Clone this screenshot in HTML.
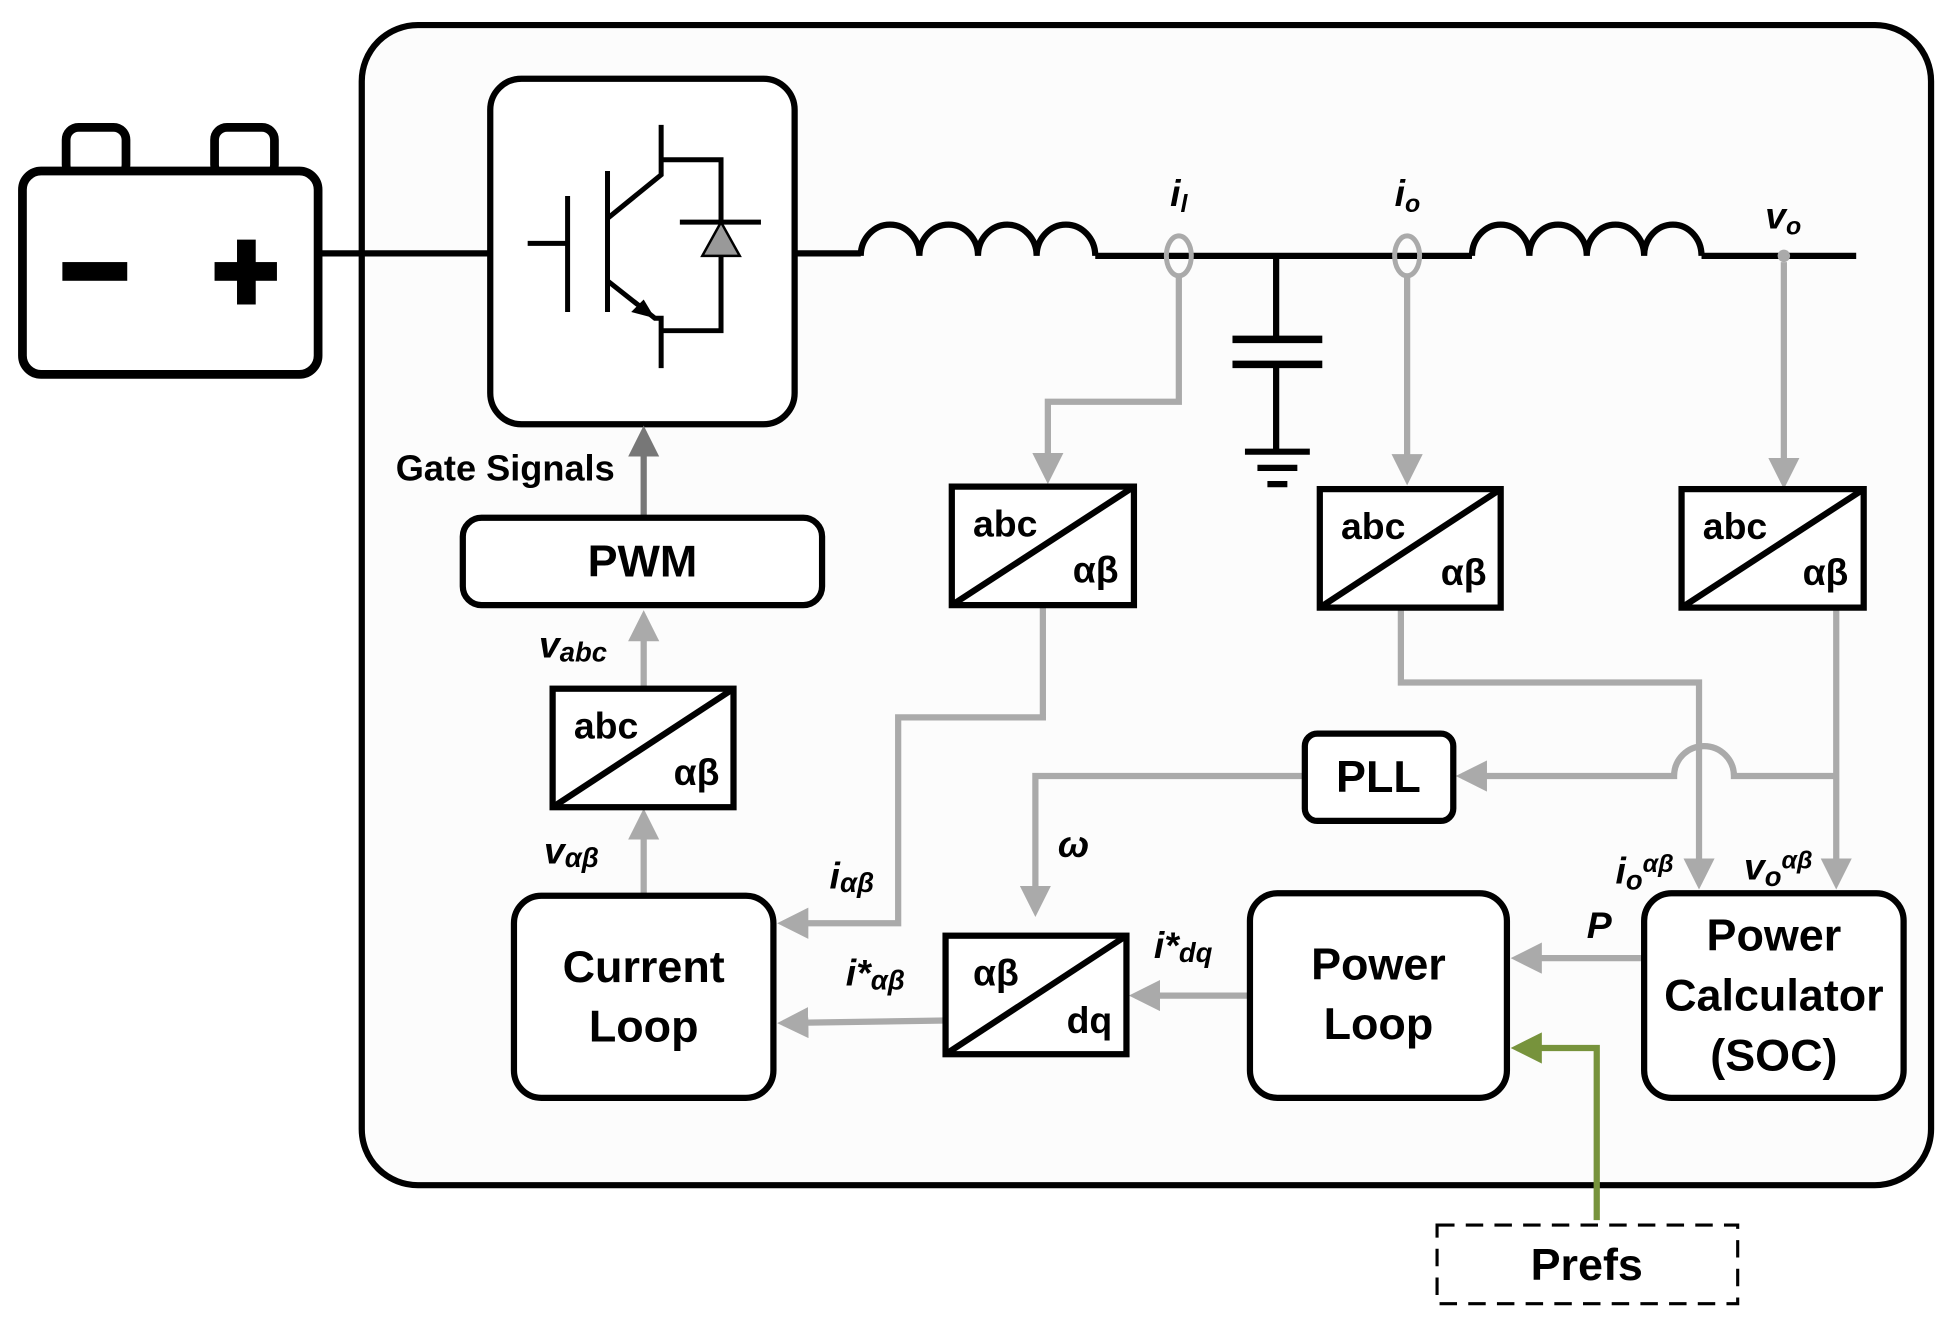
<!DOCTYPE html>
<html><head><meta charset="utf-8"><style>html,body{margin:0;padding:0;background:#fff}svg{display:block}</style></head><body>
<svg width="1956" height="1330" viewBox="0 0 1568 1066" xmlns="http://www.w3.org/2000/svg" font-family="Liberation Sans, Arial, sans-serif" font-weight="bold">
<defs>
<marker id="g" markerWidth="5" markerHeight="5" refX="4" refY="2.5" orient="auto" markerUnits="strokeWidth"><path d="M0,0 L5,2.5 L0,5 z" fill="#aaa"/></marker>
<marker id="d" markerWidth="5" markerHeight="5" refX="4" refY="2.5" orient="auto" markerUnits="strokeWidth"><path d="M0,0 L5,2.5 L0,5 z" fill="#777"/></marker>
<marker id="gr" markerWidth="5" markerHeight="5" refX="4" refY="2.5" orient="auto" markerUnits="strokeWidth"><path d="M0,0 L5,2.5 L0,5 z" fill="#77933c"/></marker>
</defs>
<rect x="290" y="20" width="1258" height="930" rx="45" fill="#fcfcfc" stroke="#000" stroke-width="5"/>
<!-- battery -->
<rect x="53" y="102" width="48" height="40" rx="10" fill="none" stroke="#000" stroke-width="7"/>
<rect x="172" y="102" width="48" height="40" rx="10" fill="none" stroke="#000" stroke-width="7"/>
<rect x="18" y="137" width="237" height="163" rx="15" fill="#fff" stroke="#000" stroke-width="7"/>
<rect x="50" y="210" width="52" height="15" fill="#000"/>
<rect x="172" y="210" width="50" height="15" fill="#000"/>
<rect x="190" y="192" width="15" height="52" fill="#000"/>
<line x1="255" y1="203" x2="393" y2="203" stroke="#000" stroke-width="5"/>
<!-- switch -->
<rect x="393" y="63" width="244" height="277" rx="25" fill="#fff" stroke="#000" stroke-width="5"/>
<g stroke="#000" stroke-width="4" fill="none">
<line x1="423" y1="195" x2="455" y2="195"/>
<line x1="455" y1="157" x2="455" y2="250"/>
<line x1="487" y1="137" x2="487" y2="250"/>
<polyline points="487,175 530,140 530,100"/>
<polyline points="530,128 578,128 578,265 530,265"/>
<polyline points="487,225 525,255 530,255 530,295"/>
<line x1="545" y1="178" x2="610" y2="178"/>
</g>
<path d="M525,255 L506,250 L516,240 z" fill="#000"/>
<path d="M578,178 L563,205 L593,205 z" fill="#999" stroke="#000" stroke-width="2"/>
<!-- power line -->
<g stroke="#000" stroke-width="5" fill="none">
<line x1="637" y1="203" x2="690" y2="203"/>
<path d="M690,205 a23.5,25 0 0 1 47,0 a23.5,25 0 0 1 47,0 a23.5,25 0 0 1 47,0 a23.5,25 0 0 1 47,0"/>
<line x1="878" y1="205" x2="1180" y2="205"/>
<path d="M1180,205 a23,25 0 0 1 46,0 a23,25 0 0 1 46,0 a23,25 0 0 1 46,0 a23,25 0 0 1 46,0"/>
<line x1="1364" y1="205" x2="1488" y2="205"/>
<line x1="1023" y1="205" x2="1023" y2="272"/>
<line x1="988" y1="272" x2="1060" y2="272" stroke-width="6"/>
<line x1="988" y1="292" x2="1060" y2="292" stroke-width="6"/>
<line x1="1023" y1="292" x2="1023" y2="362"/>
<line x1="998" y1="362" x2="1050" y2="362"/>
<line x1="1008" y1="375" x2="1040" y2="375"/>
<line x1="1016" y1="388" x2="1032" y2="388"/>
</g>
<ellipse cx="945" cy="205" rx="10" ry="16" fill="none" stroke="#aaa" stroke-width="4"/>
<ellipse cx="1128" cy="205" rx="10" ry="16" fill="none" stroke="#aaa" stroke-width="4"/>
<circle cx="1430" cy="205" r="5" fill="#aaa"/>
<g font-style="italic" font-size="30">
<text x="938" y="165">i<tspan font-size="20" dy="5">l</tspan></text>
<text x="1118" y="165">i<tspan font-size="20" dy="5">o</tspan></text>
<text x="1415" y="183">v<tspan font-size="20" dy="5">o</tspan></text>
</g>
<!-- gray connectors -->
<g stroke="#aaa" stroke-width="5" fill="none">
<polyline points="945,221 945,322 840,322 840,383" marker-end="url(#g)"/>
<line x1="1128" y1="221" x2="1128" y2="384" marker-end="url(#g)"/>
<line x1="1430" y1="210" x2="1430" y2="387" marker-end="url(#g)"/>
<polyline points="836,485 836,575 720,575 720,740 628,740" marker-end="url(#g)"/>
<polyline points="1123,487 1123,547 1362,547 1362,708" marker-end="url(#g)"/>
<line x1="1472" y1="487" x2="1472" y2="708" marker-end="url(#g)"/>
<path d="M1472,622 L1390,622 A24,24 0 0 0 1342,622 L1172,622" marker-end="url(#g)"/>
<polyline points="1046,622 830,622 830,730" marker-end="url(#g)"/>
<line x1="1318" y1="768" x2="1216" y2="768" marker-end="url(#g)"/>
<line x1="1002" y1="798" x2="910" y2="798" marker-end="url(#g)"/>
<line x1="758" y1="818" x2="628" y2="820" marker-end="url(#g)"/>
<line x1="516" y1="718" x2="516" y2="653" marker-end="url(#g)"/>
<line x1="516" y1="552" x2="516" y2="494" marker-end="url(#g)"/>
</g>
<line x1="516" y1="415" x2="516" y2="346" stroke="#777" stroke-width="5" marker-end="url(#d)"/>
<polyline points="1280,978 1280,840 1216,840" stroke="#77933c" stroke-width="5" fill="none" marker-end="url(#gr)"/>
<!-- abc boxes -->
<g stroke="#000" stroke-width="5" fill="#fff">
<rect x="763" y="390" width="146" height="95"/><line x1="763" y1="485" x2="909" y2="390"/>
<rect x="1058" y="392" width="145" height="95"/><line x1="1058" y1="487" x2="1203" y2="392"/>
<rect x="1348" y="392" width="146" height="95"/><line x1="1348" y1="487" x2="1494" y2="392"/>
<rect x="443" y="552" width="145" height="95"/><line x1="443" y1="647" x2="588" y2="552"/>
<rect x="758" y="750" width="145" height="95"/><line x1="758" y1="845" x2="903" y2="750"/>
<rect x="371" y="415" width="288" height="70" rx="15"/>
<rect x="1046" y="588" width="119" height="70" rx="10"/>
<rect x="412" y="718" width="208" height="162" rx="22"/>
<rect x="1002" y="716" width="206" height="164" rx="22"/>
<rect x="1318" y="716" width="208" height="164" rx="22"/>
</g>
<rect x="1152" y="982" width="241" height="63" fill="none" stroke="#000" stroke-width="2.5" stroke-dasharray="14,9"/>
<g font-size="30" fill="#000">
<text x="780" y="430">abc</text><text x="860" y="467">αβ</text>
<text x="1075" y="432">abc</text><text x="1155" y="469">αβ</text>
<text x="1365" y="432">abc</text><text x="1445" y="469">αβ</text>
<text x="460" y="592">abc</text><text x="540" y="629">αβ</text>
<text x="780" y="790">αβ</text><text x="855" y="828">dq</text>
</g>
<g font-size="36" text-anchor="middle" fill="#000">
<text x="515" y="462">PWM</text>
<text x="1105" y="635">PLL</text>
<text x="516" y="787">Current</text><text x="516" y="835">Loop</text>
<text x="1105" y="785">Power</text><text x="1105" y="833">Loop</text>
<text x="1422" y="762">Power</text><text x="1422" y="810">Calculator</text><text x="1422" y="858">(SOC)</text>
<text x="1272" y="1026">Prefs</text>
</g>
<text x="405" y="385" font-size="29" text-anchor="middle">Gate Signals</text>
<g font-style="italic" font-size="30" fill="#000">
<text x="432" y="527">v<tspan font-size="22" dy="3">abc</tspan></text>
<text x="436" y="692">v<tspan font-size="22" dy="3">αβ</tspan></text>
<text x="665" y="712">i<tspan font-size="22" dy="3">αβ</tspan></text>
<text x="678" y="790">i*<tspan font-size="22" dy="3">αβ</tspan></text>
<text x="925" y="768">i*<tspan font-size="22" dy="3">dq</tspan></text>
<text x="848" y="687">ω</text>
<text x="1272" y="752">P</text>
<text x="1295" y="708">i<tspan font-size="22" dy="5">o</tspan><tspan font-size="20" dy="-14">αβ</tspan></text>
<text x="1398" y="705">v<tspan font-size="22" dy="5">o</tspan><tspan font-size="20" dy="-14">αβ</tspan></text>
</g>
</svg>
</body></html>
